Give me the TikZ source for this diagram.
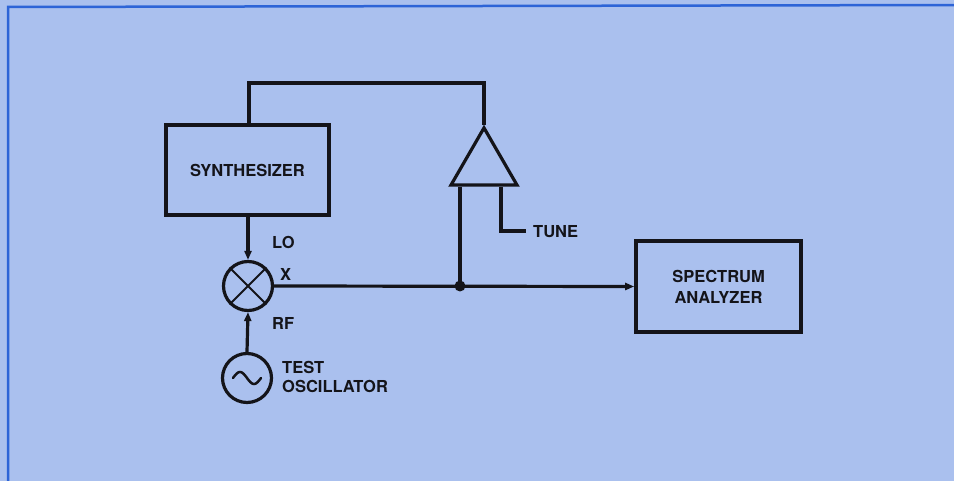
\documentclass[tikz,border=0pt]{standalone}
\usepackage{fontspec}
\setmainfont{TeX Gyre Heros}
\usetikzlibrary{arrows.meta,shapes.geometric}
\definecolor{bgblue}{RGB}{170,192,238}
\definecolor{frameblue}{RGB}{45,100,215}
\definecolor{ink}{RGB}{20,20,25}
\tikzset{
  wire/.style={line width=3.2pt,draw=ink},
  block/.style={draw=ink,line width=3.6pt,minimum width=163pt,align=center,font=\bfseries\fontsize{16.5}{21}\selectfont,text=ink},
  lbl/.style={font=\bfseries\fontsize{16.5}{20}\selectfont,text=ink,inner sep=0pt},
  tip/.style={-{Triangle[length=9pt,width=7pt]}},
  disc/.style={circle,draw=ink,line width=3.2pt,minimum size=49pt,inner sep=0pt}
}
\begin{document}
\begin{tikzpicture}[x=1pt,y=-1pt]
\fill[bgblue] (0,0) rectangle (954,481);
\useasboundingbox (0,0) rectangle (954,481);
\draw[frameblue,line width=2.5pt] (8,490) -- (8,7) -- (960,5);
% blocks
\node[block,minimum height=90pt] (syn) at (247.5,170) {SYNTHESIZER};
\node[block,minimum height=91pt,minimum width=165pt] (sa) at (718.5,286.5) {SPECTRUM\\ANALYZER};
\node[disc] (mix) at (248,286) {};
\node[disc] (osc) at (247,378) {};
\draw[line width=1.9pt,ink] (mix.45) -- (mix.225) (mix.135) -- (mix.315);
\draw[line width=2.5pt,ink,line cap=round] plot[domain=-14:14,samples=41] ({247+\x},{378+6*sin(\x*180/14)});
% amplifier
\node[isosceles triangle,isosceles triangle apex angle=60,shape border rotate=90,draw=ink,line width=3.2pt,minimum height=56pt,minimum width=66pt,inner sep=0pt] (amp) at (484,166) {};
\coordinate (j) at (460,286);
\coordinate (tuneend) at (526,231);
% connections
\draw[wire] (syn.north -| 249,0) |- (amp.apex |- 0,83) -- (amp.apex);
\draw[wire,tip] (syn.south -| mix.north) -- (mix.north);
\draw[wire,tip] (osc.north) -- (mix.south);
\draw[wire,tip] (mix.east) -- (sa.west);
\draw[wire] (amp.south -| j) -- (j);
\draw[wire] (amp.south -| 501,0) |- (tuneend);
\fill[ink] (j) circle (5.5pt);
% labels
\node[lbl,anchor=west] (lo) at (272,242) {LO};
\node[lbl,anchor=west] (x) at (280,274) {X};
\node[lbl,anchor=west] (rf) at (272,323) {RF};
\node[lbl,anchor=west] (tune) at (533,232) {TUNE};
\node[lbl,anchor=west,align=left,font=\bfseries\fontsize{16.5}{19}\selectfont] (test) at (282,377) {TEST\\OSCILLATOR};
\end{tikzpicture}
\end{document}
